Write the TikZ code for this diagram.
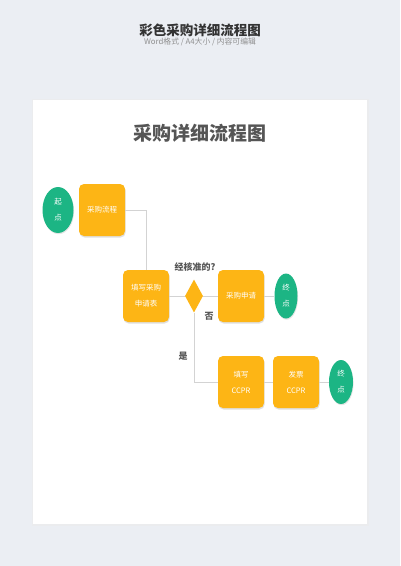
\documentclass[tikz,border=0pt]{standalone}
\usepackage{fontspec}
\newfontfamily\cjk{Noto Sans CJK SC}
\usetikzlibrary{shapes.geometric,shadows}
\definecolor{bgc}{HTML}{EBEEF3}
\definecolor{orng}{HTML}{FDB515}
\definecolor{grn}{HTML}{1CB584}
\definecolor{lnc}{HTML}{D3D3D3}
\definecolor{ttl}{HTML}{333333}
\definecolor{subc}{HTML}{8F8F8F}
\definecolor{dark}{HTML}{555555}
\tikzset{
  box/.style={fill=orng, rounded corners=5pt, minimum width=46pt, minimum height=52pt,
    inner sep=0pt, align=center, text=white, font=\cjk\fontsize{7.5}{16}\selectfont,
    drop shadow={opacity=0.25, shadow xshift=0.6pt, shadow yshift=-1.5pt}},
  term/.style={ellipse, fill=grn, inner sep=0pt, align=center, text=white,
    font=\cjk\fontsize{7.5}{16}\selectfont,
    drop shadow={opacity=0.2, shadow xshift=0.6pt, shadow yshift=-1.2pt}},
  dec/.style={diamond, fill=orng, inner sep=0pt, minimum width=18pt, minimum height=33pt},
  conn/.style={draw=lnc, line width=0.9pt},
  lbl/.style={font=\cjk\bfseries\fontsize{9}{10}\selectfont, text=dark}
}
\begin{document}
\begin{tikzpicture}[x=1pt,y=-1pt]
\fill[bgc] (0,0) rectangle (400,566);
\useasboundingbox (0,0) rectangle (400,566);
% page
\fill[black!8, opacity=0.6] (31.5,99) rectangle (368.5,526);
\fill[white] (33,100) rectangle (367,524);
% titles
\node[font=\cjk\bfseries\fontsize{13.5}{14}\selectfont, text=ttl] (top) at (200,30) {彩色采购详细流程图};
\node[font=\cjk\fontsize{7.8}{8}\selectfont, text=subc] (sub) at (200,42) {Word格式 / A4大小 / 内容可编辑};
\node[font=\cjk\bfseries\fontsize{19}{20}\selectfont, text=dark] (main) at (200,133) {采购详细流程图};
% nodes
\node[term, minimum width=31pt, minimum height=46pt] (s) at (58,210) {起\\点};
\node[box] (p1) at (102,210) {采购流程};
\node[box] (p2) at (146,296) {填写采购\\申请表};
\node[dec] (d) at (194,296) {};
\node[box] (p3) at (241,296) {采购申请};
\node[term, minimum width=23pt, minimum height=45pt] (e1) at (286,296) {终\\点};
\node[box] (p4) at (241,382) {填写\\CCPR};
\node[box] (p5) at (296,382) {发票\\CCPR};
\node[term, minimum width=24pt, minimum height=44pt] (e2) at (341,382) {终\\点};
% labels
\node[lbl] (q) at (195,267) {经核准的?};
\node[lbl] (no) at (209,316) {否};
\node[lbl] (yes) at (183,356) {是};
% connectors
\draw[conn] (p1.east) -| (p2.north);
\draw[conn] (p2.east) -- (d.west);
\draw[conn] (d.east) -- (p3.west);
\draw[conn] (p3.east) -- (e1.west);
\draw[conn] (d.south) |- (p4.west);
\draw[conn] (p4.east) -- (p5.west);
\draw[conn] (p5.east) -- (e2.west);
\end{tikzpicture}
\end{document}
